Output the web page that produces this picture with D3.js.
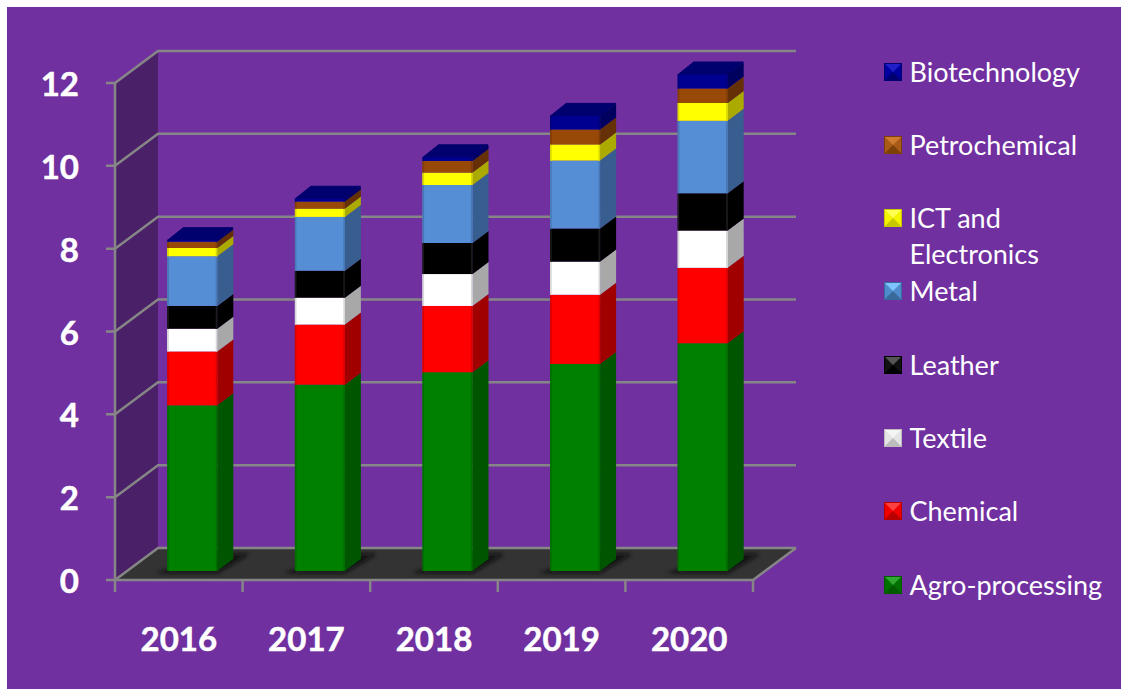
<!DOCTYPE html>
<html>
<head>
<meta charset="utf-8">
<script src="https://cdn.jsdelivr.net/npm/d3@7"></script>
<style>
html,body{margin:0;padding:0;background:#fff}
svg{display:block}
text{font-family:Lato,"Open Sans",sans-serif;fill:#fff}
</style>
</head>
<body>
<div id="chart"></div>
<script>
const years = ["2016","2017","2018","2019","2020"];
const sectors = ["Agro-processing","Chemical","Textile","Leather","Metal","ICT and Electronics","Petrochemical","Biotechnology"];
const agro = [4.0,4.5,4.8,5.0,5.5];
const chemical = [1.3,1.45,1.6,1.67,1.82];
const textile = [0.55,0.65,0.77,0.8,0.9];
const leather = [0.55,0.65,0.75,0.8,0.9];
const metal = [1.2,1.3,1.4,1.64,1.75];
const ict = [0.2,0.2,0.3,0.39,0.43];
const petro = [0.15,0.17,0.28,0.36,0.35];
const biotech = [0.05,0.08,0.1,0.34,0.35];
const seriesValues = [agro,chemical,textile,leather,metal,ict,petro,biotech];
const yTicks = [0,2,4,6,8,10,12];
const frontColors = ["#008000","#ff0000","#ffffff","#000000","#558ed5","#ffff00","#984807","#000090"];
const sideColors = ["#005500","#a00000","#a8a8a8","#000000","#375e8e","#aaaa00","#653005","#00005f"];
const iconTop = ["#30a830","#ff4040","#f4f4f4","#555555","#80c4ff","#ffff50","#d07a30","#2020c8"];
const iconSide = ["#007000","#f00000","#e4e4e4","#111111","#4f8ccc","#f4f400","#a85a18","#0000a0"];
const iconBottom = ["#005a00","#b80000","#bcbcbc","#000000","#3a6a9c","#c8c800","#7c4008","#000070"];

const W = 1121, H = 689;
const svg = d3.select("#chart").append("svg").attr("width",W).attr("height",H);
const defs = svg.append("defs");
defs.append("filter").attr("id","soft").attr("x","-30%").attr("y","-30%").attr("width","160%").attr("height","160%")
  .append("feGaussianBlur").attr("stdDeviation",2);
defs.append("clipPath").attr("id","floorClip").append("polygon")
  .attr("points","115,580 753,580 797,548 158,548");

svg.append("rect").attr("x",7).attr("y",7).attr("width",W-7).attr("height",H-7).attr("fill","#7030a0");

const x = d3.scaleBand().domain(years).range([115,753]);
const y = d3.scaleLinear().domain([0,12]).range([580,83]);
// oblique depth of the plot box, in pixels
const depthX = 43, depthY = -32;
const grey = "#868686";

// side wall and floor
const wall = svg.append("g");
wall.append("polygon").attr("fill","#4a2068")
  .attr("points",[[x.range()[0],y(0)],[x.range()[0],y(12)],[x.range()[0]+depthX,y(12)+depthY],[x.range()[0]+depthX,y(0)+depthY]].join(" "));
wall.append("polygon").attr("fill","#333333")
  .attr("points",[[x.range()[0],y(0)],[x.range()[1],y(0)],[x.range()[1]+depthX,y(0)+depthY],[x.range()[0]+depthX,y(0)+depthY]].join(" "));

// gridlines run along the wall and across the back
const grid = svg.append("g").attr("fill","none").attr("stroke",grey).attr("stroke-width",2.5);
yTicks.forEach(t=>{
  grid.append("path").attr("d",d3.line()([
    [x.range()[0]-9,y(t)],[x.range()[0],y(t)],
    [x.range()[0]+depthX,y(t)+depthY],[x.range()[1]+depthX,y(t)+depthY]]));
});
grid.append("path").attr("d",d3.line()([[x.range()[0],y(12)],[x.range()[0],y(0)+12]]));
grid.append("path").attr("d",d3.line()([[x.range()[0],y(0)],[x.range()[1],y(0)],[x.range()[1]+depthX,y(0)+depthY]]));
x.domain().forEach(d=>{
  const px = x(d)+x.bandwidth();
  grid.append("path").attr("d",d3.line()([[px,y(0)],[px,y(0)+12]]));
});

// y axis labels
svg.append("g").selectAll("text").data(yTicks).join("text")
  .attr("x",79).attr("y",d=>y(d)+13).attr("text-anchor","end")
  .attr("font-size",33).attr("font-weight",700).attr("stroke","#fff").attr("stroke-width",0.5).text(d=>d);

// x axis labels
svg.append("g").selectAll("text").data(years).join("text")
  .attr("x",d=>x(d)+x.bandwidth()/2).attr("y",651).attr("text-anchor","middle")
  .attr("font-size",33).attr("font-weight",700).attr("stroke","#fff").attr("stroke-width",0.5).text(d=>d);

// stacked bars: front, side and top faces per segment
const stackRows = years.map((yr,i)=>{
  const row = {year:yr};
  sectors.forEach((s,j)=>{row[s]=seriesValues[j][i];});
  return row;
});
const layers = d3.stack().keys(sectors)(stackRows);

const barW = 50, sideX = 16, sideY = -12;
const barOffsetX = 13.5, barOffsetY = -9;
const bars = svg.append("g");

// contact shadows on the floor
const shadows = bars.append("g").attr("clip-path","url(#floorClip)");
years.forEach(yr=>{
  const fx = x(yr)+x.bandwidth()/2+barOffsetX-barW/2;
  const by = y(0)+barOffsetY;
  shadows.append("polygon").attr("fill","#0c0c0c").attr("opacity",0.9).attr("filter","url(#soft)")
    .attr("points",[[fx-12,by+2],[fx+barW,by+2],[fx+barW+32,by-17],[fx+barW+10,by-17]].join(" "));
});

years.forEach((yr,i)=>{
  const fx = x(yr)+x.bandwidth()/2+barOffsetX-barW/2;
  const g = bars.append("g");
  layers.forEach((layer,j)=>{
    const y0 = y(layer[i][0])+barOffsetY, y1 = y(layer[i][1])+barOffsetY;
    const isTop = j===layers.length-1;
    g.append("polygon").attr("fill",sideColors[j])
      .attr("points",[[fx+barW,y0],[fx+barW,y1],[fx+barW+sideX,y1+sideY],[fx+barW+sideX,y0+sideY]].join(" "));
    g.append("rect").attr("x",fx).attr("y",y1).attr("width",barW).attr("height",y0-y1).attr("fill",frontColors[j]);
    // soft vertical bevels on the front face
    const bevel = d3.color(frontColors[j]);
    const edge = j===2 ? "#d8d8d8" : (j===3 ? "#1a1a1a" : bevel.darker(0.45).formatHex());
    g.append("rect").attr("x",fx).attr("y",y1).attr("width",1.6).attr("height",y0-y1).attr("fill",edge);
    g.append("rect").attr("x",fx+barW-1.6).attr("y",y1).attr("width",1.6).attr("height",y0-y1).attr("fill",edge);
    if(isTop){
      g.append("polygon").attr("fill","#00006e").attr("stroke","#00006e").attr("stroke-width",1).attr("stroke-linejoin","round")
        .attr("points",[[fx+1,y1],[fx+barW,y1],[fx+barW+sideX-0.5,y1+sideY],[fx+sideX,y1+sideY]].join(" "));
    }
  });
});

// legend, top entry first
const legendRows = [
  {k:7,cy:72},{k:6,cy:145},{k:5,cy:218},{k:4,cy:291},{k:3,cy:365},{k:2,cy:438},{k:1,cy:511},{k:0,cy:585}
];
const legend = svg.append("g");
const s = 18, lx = 884;
legendRows.forEach(r=>{
  const g = legend.append("g");
  const top = r.cy-s/2;
  const cx = lx+s/2, cy = r.cy, l = lx+s, b = top+s;
  g.append("rect").attr("x",lx).attr("y",top).attr("width",s).attr("height",s).attr("fill",iconSide[r.k]);
  g.append("polygon").attr("fill",iconTop[r.k]).attr("points",[[lx,top],[l,top],[cx,cy]].join(" "));
  g.append("polygon").attr("fill",iconBottom[r.k]).attr("points",[[lx,b],[l,b],[cx,cy]].join(" "));
  g.append("rect").attr("x",lx+0.5).attr("y",top+0.5).attr("width",s-1).attr("height",s-1)
    .attr("fill","none").attr("stroke",iconBottom[r.k]).attr("stroke-width",1);
  const label = sectors[r.k];
  if(label==="ICT and Electronics"){
    const t = legend.append("text").attr("font-size",27);
    t.append("tspan").attr("x",909.5).attr("y",r.cy+10).text("ICT and");
    t.append("tspan").attr("x",909.5).attr("y",r.cy+46).text("Electronics");
  } else {
    legend.append("text").attr("x",909.5).attr("y",r.cy+10).attr("font-size",27).text(label);
  }
});
</script>
</body>
</html>
